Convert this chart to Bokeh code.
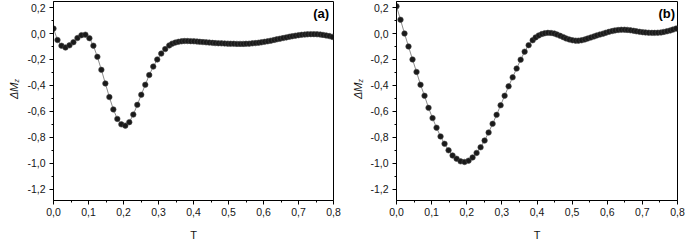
import math
from bokeh.plotting import figure
from bokeh.layouts import row
from bokeh.models import Range1d, Label, CustomJSTickFormatter, FixedTicker
from bokeh.embed import file_html
from bokeh.resources import INLINE

# ---- data panel (a) ----
T_a = [0.0, 0.0114, 0.0228, 0.0342, 0.0456, 0.057, 0.0684, 0.0798, 0.0912, 0.1026,
       0.114, 0.1254, 0.1368, 0.1482, 0.1596, 0.171, 0.1824, 0.1938, 0.2052, 0.2166,
       0.228, 0.2394, 0.2508, 0.2622, 0.2736, 0.285, 0.2964, 0.3078, 0.3192, 0.3306,
       0.339, 0.348, 0.357, 0.366, 0.374, 0.383, 0.392, 0.401, 0.41, 0.418,
       0.427, 0.436, 0.445, 0.454, 0.462, 0.471, 0.48, 0.489, 0.498, 0.506,
       0.515, 0.524, 0.533, 0.542, 0.55, 0.559, 0.568, 0.577, 0.586, 0.594,
       0.603, 0.612, 0.621, 0.63, 0.638, 0.647, 0.656, 0.665, 0.674, 0.682,
       0.691, 0.7, 0.709, 0.718, 0.726, 0.735, 0.744, 0.753, 0.762, 0.77,
       0.779, 0.788, 0.797]
dM_a = [0.038, -0.05, -0.094, -0.108, -0.091, -0.067, -0.035, -0.013, -0.009, -0.036,
        -0.094, -0.18, -0.28, -0.385, -0.49, -0.585, -0.658, -0.7, -0.71, -0.683,
        -0.625, -0.55, -0.472, -0.395, -0.32, -0.255, -0.2, -0.155, -0.12, -0.092,
        -0.078, -0.07, -0.064, -0.06, -0.058, -0.058, -0.059, -0.06, -0.062, -0.064,
        -0.066, -0.068, -0.07, -0.072, -0.074, -0.075, -0.076, -0.077, -0.078, -0.079,
        -0.079, -0.08, -0.08, -0.08, -0.079, -0.078, -0.076, -0.074, -0.071, -0.068,
        -0.064, -0.06, -0.055, -0.05, -0.045, -0.04, -0.035, -0.03, -0.025, -0.021,
        -0.017, -0.013, -0.01, -0.008, -0.006, -0.005, -0.005, -0.006, -0.008, -0.011,
        -0.015, -0.02, -0.026]

# ---- data panel (b) ----
T_b = [0.0, 0.0114, 0.0228, 0.0342, 0.0456, 0.057, 0.0684, 0.0798, 0.0912, 0.1026,
       0.114, 0.1254, 0.1368, 0.1482, 0.1596, 0.171, 0.1824, 0.1938, 0.2052, 0.2166,
       0.228, 0.2394, 0.2508, 0.2622, 0.2736, 0.285, 0.2964, 0.3078, 0.3192, 0.3306,
       0.342, 0.3534, 0.3648, 0.3762, 0.3876,
       0.396, 0.405, 0.414, 0.422, 0.431, 0.44, 0.449, 0.457, 0.466, 0.475,
       0.483, 0.492, 0.501, 0.51, 0.518, 0.527, 0.536, 0.544, 0.553, 0.562,
       0.57, 0.579, 0.588, 0.596, 0.605, 0.614, 0.622, 0.631, 0.64, 0.649,
       0.657, 0.666, 0.675, 0.683, 0.692, 0.701, 0.709, 0.718, 0.727, 0.735,
       0.744, 0.753, 0.761, 0.77, 0.779, 0.787, 0.796]
dM_b = [0.21, 0.106, 0.0, -0.1, -0.2, -0.296, -0.395, -0.48, -0.573, -0.652,
        -0.726, -0.793, -0.85, -0.9, -0.94, -0.965, -0.985, -0.99, -0.98, -0.955,
        -0.92, -0.877, -0.825, -0.763, -0.696, -0.627, -0.553, -0.48, -0.407, -0.338,
        -0.27, -0.202, -0.14, -0.09, -0.052,
        -0.03, -0.015, -0.004, 0.002, 0.005, 0.004, 0.0, -0.008, -0.018, -0.028,
        -0.038, -0.046, -0.052, -0.055, -0.055, -0.052, -0.046, -0.039, -0.031, -0.023,
        -0.015, -0.008, -0.001, 0.006, 0.013, 0.019, 0.024, 0.027, 0.029, 0.029,
        0.028, 0.025, 0.021, 0.017, 0.013, 0.01, 0.008, 0.006, 0.005, 0.005,
        0.006, 0.008, 0.012, 0.017, 0.023, 0.03, 0.038]

x_ticks = [0.0, 0.1, 0.2, 0.3, 0.4, 0.5, 0.6, 0.7, 0.8]
y_ticks = [0.2, 0.0, -0.2, -0.4, -0.6, -0.8, -1.0, -1.2]
panel_tags = ["(a)", "(b)"]

FONT = "Liberation Sans"
TXT = "#151515"
H = 243
fmt = CustomJSTickFormatter(code="return tick.toFixed(1).replace('.', ',');")


def make_ylabel(width, xc):
    """Narrow strip holding the rotated ΔM_z label (pixel data coordinates)."""
    f = figure(width=width, height=H, output_backend="svg", toolbar_location=None,
               x_range=Range1d(0, width), y_range=Range1d(0, H),
               x_axis_type=None, y_axis_type=None,
               min_border=0, min_border_left=0, min_border_right=0,
               min_border_top=0, min_border_bottom=0)
    f.outline_line_color = None
    f.grid.visible = False
    f.background_fill_color = "white"
    f.border_fill_color = "white"
    yc = H - 99
    f.add_layout(Label(x=xc, y=yc, text="ΔM", angle=math.pi / 2,
                       text_align="right", text_baseline="middle",
                       text_font=FONT, text_font_style="italic", text_font_size="11px",
                       text_color=TXT))
    f.add_layout(Label(x=xc + 3, y=yc, text="z", angle=math.pi / 2,
                       text_align="left", text_baseline="middle",
                       text_font=FONT, text_font_style="italic", text_font_size="7px",
                       text_color=TXT))
    return f


def make_panel(T, dM, tag, width, left, right, tag_px):
    frame_w = width - left - right
    p = figure(width=width, height=H, output_backend="svg", toolbar_location=None,
               x_range=Range1d(0.0, 0.8), y_range=Range1d(-1.287, 0.2467),
               min_border_left=left, min_border_right=right,
               min_border_top=1, min_border_bottom=35)
    p.grid.visible = False
    p.outline_line_color = "black"
    p.outline_line_width = 1
    p.background_fill_color = "white"
    p.border_fill_color = "white"
    for ax, ticks, minor in ((p.xaxis, x_ticks, [0.05 + 0.1 * i for i in range(8)]),
                             (p.yaxis, y_ticks, [0.1 - 0.2 * i for i in range(7)])):
        ax.ticker = FixedTicker(ticks=ticks, minor_ticks=minor)
        ax.formatter = fmt
        ax.major_label_text_font = FONT
        ax.major_label_text_font_size = "10.5px"
        ax.major_label_text_color = TXT
        ax.axis_line_color = "black"
        ax.major_tick_in = 0
        ax.major_tick_out = 4
        ax.minor_tick_in = 0
        ax.minor_tick_out = 2
        ax.major_tick_line_color = "black"
        ax.minor_tick_line_color = "black"
    p.xaxis.major_label_standoff = 3
    p.yaxis.major_label_standoff = 4
    p.xaxis.axis_label = "T"
    p.xaxis.axis_label_text_font = FONT
    p.xaxis.axis_label_text_font_style = "normal"
    p.xaxis.axis_label_text_font_size = "11px"
    p.xaxis.axis_label_standoff = 10
    p.xaxis.axis_label_text_color = TXT

    p.line(T, dM, line_color="#8a8a8a", line_width=1)
    p.scatter(T, dM, size=5.5, fill_color="#1a1a1a", line_color="#444444", line_width=0.6)

    px_per_x = frame_w / 0.8
    p.add_layout(Label(x=0.8 - tag_px / px_per_x, y=0.158, text=tag,
                       text_align="right", text_baseline="middle",
                       text_font=FONT, text_font_style="bold", text_font_size="13px",
                       text_color="black"))
    return p


la = make_ylabel(24, 13)
pa = make_panel(T_a, dM_a, panel_tags[0], 343 - 24, 52 - 24, 10, 4.5)
lb = make_ylabel(24, 14)
pb = make_panel(T_b, dM_b, panel_tags[1], 342 - 24, 53 - 24, 8, 2.5)
layout = row(la, pa, lb, pb, spacing=0)
open("out.html", "w").write(file_html(layout, INLINE))
